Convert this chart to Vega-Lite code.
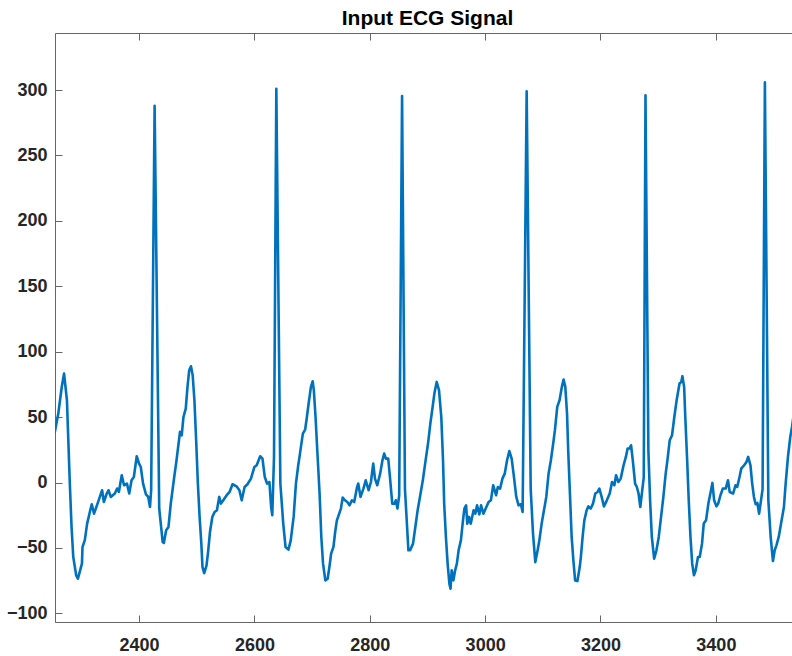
{
  "$schema": "https://vega.github.io/schema/vega-lite/v6.json",
  "autosize": {"type": "none"},
  "width": 737,
  "height": 589,
  "padding": {"left": 55, "top": 33, "right": 0, "bottom": 34},
  "background": "white",
  "title": {"text": "Input ECG Signal", "font": "Liberation Sans", "fontSize": 21, "fontWeight": "bold", "color": "#000000", "anchor": "middle", "offset": 4, "dx": 4},
  "config": {
    "view": {"stroke": null},
    "axis": {"grid": false, "domainColor": "#666666", "domainWidth": 1, "tickColor": "#666666", "tickWidth": 1, "tickSize": 7, "labelFont": "Liberation Sans", "labelFontSize": 18, "labelFontWeight": "bold", "labelColor": "#262626", "title": null, "format": "d"}
  },
  "data": {"values": [
{"x":2254,"y":38.7},{"x":2260,"y":52.7},{"x":2266,"y":73},{"x":2270,"y":83.3},{"x":2275,"y":62.9},{"x":2277,"y":37.4},{"x":2280,"y":-0.8},{"x":2283,"y":-34},{"x":2286,"y":-57},{"x":2291,"y":-70.9},{"x":2294,"y":-73.5},{"x":2298,"y":-67},{"x":2301,"y":-62},{"x":2302,"y":-49.3},{"x":2306,"y":-44},{"x":2310,"y":-31.4},{"x":2314,"y":-23.8},{"x":2318,"y":-16.6},{"x":2322,"y":-23.8},{"x":2327,"y":-17.4},{"x":2331,"y":-12.3},{"x":2336,"y":-5.9},{"x":2339,"y":-14.9},{"x":2344,"y":-8.4},{"x":2347,"y":-5.9},{"x":2351,"y":-11},{"x":2358,"y":-8.4},{"x":2362,"y":-4.6},{"x":2365,"y":-7.2},{"x":2370,"y":5.6},{"x":2374,"y":-2.1},{"x":2379,"y":-0.8},{"x":2383,"y":-8.4},{"x":2387,"y":1.7},{"x":2391,"y":4.2},{"x":2396,"y":20.1},{"x":2400,"y":14.5},{"x":2403,"y":11.9},{"x":2407,"y":-0.8},{"x":2412,"y":-9},{"x":2416,"y":-11},{"x":2419,"y":-18.7},{"x":2421,"y":-5.9},{"x":2427,"y":288},{"x":2435,"y":-20},{"x":2441,"y":-45.5},{"x":2443,"y":-46.2},{"x":2447,"y":-36.5},{"x":2451,"y":-34},{"x":2455,"y":-16.1},{"x":2461,"y":4.2},{"x":2465,"y":17},{"x":2471,"y":38.7},{"x":2474,"y":36.1},{"x":2477,"y":50.1},{"x":2481,"y":56.5},{"x":2484,"y":73.1},{"x":2487,"y":85.9},{"x":2490,"y":88.9},{"x":2493,"y":82},{"x":2496,"y":62.9},{"x":2499,"y":32.3},{"x":2502,"y":-0.8},{"x":2505,"y":-26.3},{"x":2508,"y":-46.7},{"x":2510,"y":-64.6},{"x":2513,"y":-69.2},{"x":2517,"y":-63.3},{"x":2520,"y":-51.8},{"x":2523,"y":-37.8},{"x":2527,"y":-26.3},{"x":2531,"y":-22.5},{"x":2535,"y":-21.2},{"x":2539,"y":-11},{"x":2542,"y":-16.1},{"x":2546,"y":-13.6},{"x":2552,"y":-9.7},{"x":2557,"y":-7.2},{"x":2562,"y":-1.3},{"x":2569,"y":-2.9},{"x":2574,"y":-5.9},{"x":2578,"y":-13.6},{"x":2583,"y":-3.4},{"x":2588,"y":-1.3},{"x":2594,"y":3},{"x":2600,"y":11.9},{"x":2604,"y":13.2},{"x":2610,"y":20.1},{"x":2614,"y":18.3},{"x":2618,"y":4.2},{"x":2622,"y":-0.8},{"x":2626,"y":0.4},{"x":2629,"y":-18.7},{"x":2631,"y":-25},{"x":2634,"y":20},{"x":2638,"y":301},{"x":2645,"y":-0.8},{"x":2650,"y":-31.4},{"x":2654,"y":-49.3},{"x":2659,"y":-51.3},{"x":2663,"y":-44.2},{"x":2668,"y":-26.3},{"x":2672,"y":-0.8},{"x":2676,"y":13.2},{"x":2679,"y":22.1},{"x":2684,"y":37.4},{"x":2688,"y":40.5},{"x":2691,"y":50.1},{"x":2694,"y":60.4},{"x":2698,"y":73.1},{"x":2701,"y":77.4},{"x":2703,"y":70.6},{"x":2706,"y":50.1},{"x":2709,"y":24.7},{"x":2713,"y":-8.4},{"x":2716,"y":-41.6},{"x":2719,"y":-62},{"x":2723,"y":-74.8},{"x":2727,"y":-73.5},{"x":2730,"y":-64.6},{"x":2733,"y":-54.3},{"x":2737,"y":-49.3},{"x":2740,"y":-37.8},{"x":2743,"y":-28.9},{"x":2747,"y":-23.8},{"x":2750,"y":-19.9},{"x":2753,"y":-11.5},{"x":2757,"y":-13.6},{"x":2761,"y":-14.9},{"x":2765,"y":-17.4},{"x":2769,"y":-13.6},{"x":2773,"y":-14.9},{"x":2778,"y":-3.4},{"x":2780,"y":-0.8},{"x":2784,"y":-11},{"x":2789,"y":-4.6},{"x":2793,"y":1.7},{"x":2798,"y":-5.9},{"x":2802,"y":0.4},{"x":2806,"y":14.5},{"x":2809,"y":3},{"x":2813,"y":-2.1},{"x":2818,"y":6.8},{"x":2822,"y":17},{"x":2825,"y":22.1},{"x":2828,"y":18.3},{"x":2832,"y":18.3},{"x":2835,"y":4.2},{"x":2839,"y":-16.1},{"x":2843,"y":-16.1},{"x":2845,"y":-13.6},{"x":2848,"y":-19.9},{"x":2851,"y":-10},{"x":2856,"y":295.5},{"x":2861,"y":-5},{"x":2867,"y":-51.8},{"x":2870,"y":-51.8},{"x":2875,"y":-46.7},{"x":2879,"y":-34},{"x":2883,"y":-21.2},{"x":2887,"y":-11},{"x":2892,"y":1.7},{"x":2896,"y":14.5},{"x":2901,"y":29.8},{"x":2905,"y":45.1},{"x":2909,"y":57.8},{"x":2912,"y":68},{"x":2916,"y":76.9},{"x":2920,"y":70.6},{"x":2924,"y":50.1},{"x":2927,"y":17},{"x":2929,"y":-16.1},{"x":2932,"y":-41.6},{"x":2935,"y":-62},{"x":2938,"y":-77.3},{"x":2940,"y":-81.1},{"x":2942,"y":-67.1},{"x":2945,"y":-74.8},{"x":2948,"y":-67.1},{"x":2951,"y":-62},{"x":2954,"y":-51.8},{"x":2958,"y":-44.2},{"x":2961,"y":-31.4},{"x":2964,"y":-19.9},{"x":2967,"y":-17.4},{"x":2969,"y":-31.4},{"x":2972,"y":-26.3},{"x":2975,"y":-31.4},{"x":2980,"y":-21.2},{"x":2983,"y":-23.8},{"x":2986,"y":-17.4},{"x":2990,"y":-24.3},{"x":2993,"y":-17.4},{"x":2997,"y":-23.8},{"x":3001,"y":-19.9},{"x":3006,"y":-14.9},{"x":3010,"y":-13.6},{"x":3014,"y":-2.1},{"x":3019,"y":-9.7},{"x":3022,"y":-3.4},{"x":3026,"y":-4.6},{"x":3030,"y":3},{"x":3034,"y":6.8},{"x":3038,"y":17},{"x":3042,"y":24.1},{"x":3046,"y":18.3},{"x":3050,"y":4.2},{"x":3054,"y":-11},{"x":3058,"y":-17.4},{"x":3062,"y":-16.6},{"x":3065,"y":-22.5},{"x":3072,"y":299},{"x":3079,"y":-5},{"x":3083,"y":-39},{"x":3087,"y":-60.8},{"x":3091,"y":-51.8},{"x":3094,"y":-44.2},{"x":3098,"y":-31.4},{"x":3102,"y":-21.2},{"x":3106,"y":-11},{"x":3110,"y":6.8},{"x":3114,"y":17},{"x":3118,"y":29.8},{"x":3121,"y":40},{"x":3125,"y":57.8},{"x":3129,"y":62.9},{"x":3133,"y":73.1},{"x":3136,"y":78.7},{"x":3139,"y":73.1},{"x":3142,"y":52.7},{"x":3144,"y":24.7},{"x":3147,"y":-8.4},{"x":3150,"y":-41.6},{"x":3153,"y":-59.5},{"x":3156,"y":-74.8},{"x":3160,"y":-75.3},{"x":3164,"y":-64.6},{"x":3166,"y":-56.9},{"x":3169,"y":-41.6},{"x":3172,"y":-28.9},{"x":3176,"y":-21.2},{"x":3179,"y":-18.2},{"x":3183,"y":-19.9},{"x":3187,"y":-16.1},{"x":3191,"y":-8.4},{"x":3195,"y":-7.2},{"x":3198,"y":-4.6},{"x":3202,"y":-11},{"x":3206,"y":-18.2},{"x":3211,"y":-13.6},{"x":3216,"y":-8.4},{"x":3220,"y":0.4},{"x":3224,"y":-2.1},{"x":3227,"y":5.6},{"x":3231,"y":0.4},{"x":3235,"y":3},{"x":3240,"y":13.2},{"x":3244,"y":19.6},{"x":3247,"y":26},{"x":3250,"y":26},{"x":3253,"y":28.5},{"x":3256,"y":17},{"x":3260,"y":-0.8},{"x":3263,"y":-3.4},{"x":3266,"y":-8.4},{"x":3269,"y":-18.7},{"x":3275,"y":4},{"x":3278,"y":296},{"x":3283,"y":24.7},{"x":3286,"y":-13.6},{"x":3289,"y":-41.6},{"x":3293,"y":-58.2},{"x":3297,"y":-51.8},{"x":3301,"y":-41.6},{"x":3305,"y":-26.3},{"x":3309,"y":-11},{"x":3313,"y":6.8},{"x":3316,"y":17},{"x":3320,"y":32.3},{"x":3324,"y":36.1},{"x":3328,"y":50.1},{"x":3332,"y":62.9},{"x":3337,"y":75.7},{"x":3340,"y":76.9},{"x":3342,"y":81.3},{"x":3345,"y":73.1},{"x":3347,"y":50.1},{"x":3350,"y":19.6},{"x":3353,"y":-13.6},{"x":3356,"y":-41.6},{"x":3359,"y":-62},{"x":3362,"y":-70.9},{"x":3365,"y":-67.1},{"x":3369,"y":-56.9},{"x":3372,"y":-56.9},{"x":3376,"y":-46.7},{"x":3379,"y":-31.4},{"x":3383,"y":-28.9},{"x":3387,"y":-16.1},{"x":3391,"y":-7.2},{"x":3394,"y":-0.3},{"x":3397,"y":-13.6},{"x":3401,"y":-18.2},{"x":3404,"y":-16.1},{"x":3408,"y":-9.7},{"x":3412,"y":-4.6},{"x":3417,"y":-4.6},{"x":3421,"y":1.7},{"x":3424,"y":-7.2},{"x":3430,"y":-8.4},{"x":3434,"y":-2.1},{"x":3437,"y":-3.4},{"x":3441,"y":4.2},{"x":3444,"y":10.6},{"x":3449,"y":13.2},{"x":3453,"y":15.7},{"x":3456,"y":19.6},{"x":3460,"y":13.2},{"x":3463,"y":-0.8},{"x":3466,"y":-11},{"x":3469,"y":-16.6},{"x":3472,"y":-15.6},{"x":3475,"y":-23.8},{"x":3481,"y":-5},{"x":3485,"y":306},{"x":3491,"y":-13.6},{"x":3495,"y":-41.6},{"x":3499,"y":-60},{"x":3502,"y":-51.8},{"x":3505,"y":-48},{"x":3509,"y":-41.6},{"x":3513,"y":-31.4},{"x":3518,"y":-18.7},{"x":3521,"y":-0.8},{"x":3525,"y":19.6},{"x":3529,"y":34.8},{"x":3532,"y":42.5},{"x":3536,"y":55}
  ]},
  "layer": [
    {
      "mark": {"type": "line", "color": "#0072BD", "strokeWidth": 2.6, "strokeJoin": "round", "strokeCap": "round", "clip": true},
      "encoding": {
        "x": {"field": "x", "type": "quantitative", "scale": {"domain": [2254.3, 3532], "nice": false, "zero": false}, "axis": {"orient": "bottom", "values": [2400, 2600, 2800, 3000, 3200, 3400], "tickOpacity": 0, "labelPadding": 7, "labelFlush": false}},
        "y": {"field": "y", "type": "quantitative", "scale": {"domain": [-106.6, 343.6], "nice": false, "zero": false}, "axis": {"orient": "left", "values": [-100, -50, 0, 50, 100, 150, 200, 250, 300], "tickOpacity": 0, "labelPadding": 1, "labelFlush": false}}
      }
    },
    {
      "mark": {"type": "point", "opacity": 0},
      "encoding": {
        "x": {"field": "x", "type": "quantitative", "scale": {"domain": [2254.3, 3532], "nice": false, "zero": false}, "axis": {"orient": "top", "offset": -589, "values": [2400, 2600, 2800, 3000, 3200, 3400], "labels": false}},
        "y": {"field": "y", "type": "quantitative", "scale": {"domain": [-106.6, 343.6], "nice": false, "zero": false}, "axis": {"orient": "right", "offset": -737, "values": [-100, -50, 0, 50, 100, 150, 200, 250, 300], "labels": false, "domain": false}}
      }
    },
    {
      "mark": {"type": "point", "opacity": 0},
      "encoding": {
        "x": {"field": "x", "type": "quantitative", "scale": {"domain": [2254.3, 3532], "nice": false, "zero": false}, "axis": {"orient": "bottom", "offset": -589, "values": [2400, 2600, 2800, 3000, 3200, 3400], "labels": false}}
      }
    }
  ],
  "resolve": {"scale": {"x": "independent", "y": "independent"}, "axis": {"x": "independent", "y": "independent"}}
}
